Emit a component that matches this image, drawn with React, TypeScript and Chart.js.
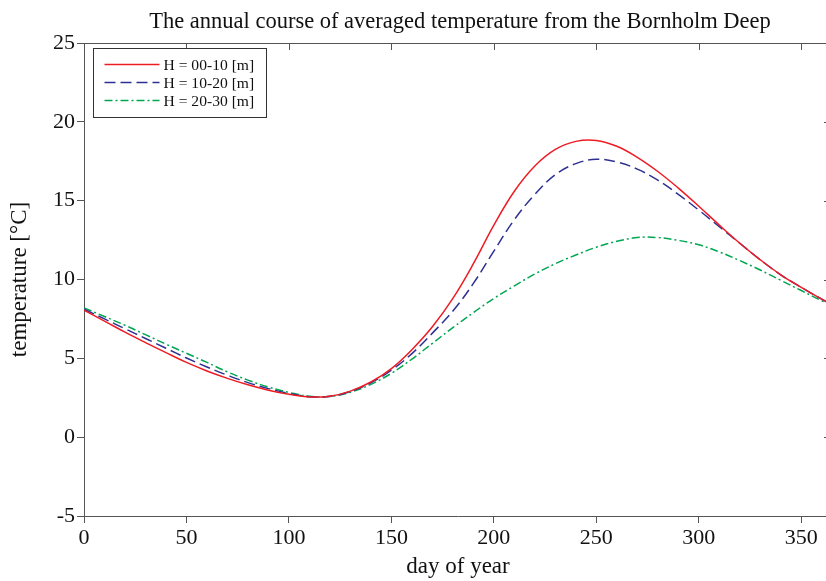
import React, { useEffect, useRef } from 'react';
import { Chart, registerables } from 'chart.js';

Chart.register(...registerables);

// ---- data ----
const DAYS = [0, 10, 20, 30, 40, 50, 60, 70, 80, 90, 100, 110, 120, 130, 140, 150, 160, 170, 180, 190, 200, 210, 220, 230, 240, 250, 260, 270, 280, 290, 300, 310, 320, 330, 340, 350, 360, 365];

const T_00_10 = [8.05, 7.36, 6.66, 6.0, 5.36, 4.74, 4.2, 3.73, 3.32, 2.98, 2.72, 2.55, 2.6, 2.92, 3.5, 4.35, 5.55, 7.0, 8.8, 11.0, 13.45, 15.6, 17.2, 18.25, 18.76, 18.82, 18.45, 17.75, 16.85, 15.8, 14.65, 13.45, 12.3, 11.25, 10.3, 9.5, 8.75, 8.4];

const T_10_20 = [8.12, 7.5, 6.88, 6.26, 5.64, 5.02, 4.45, 3.93, 3.46, 3.08, 2.77, 2.57, 2.59, 2.9, 3.45, 4.25, 5.3, 6.6, 8.0, 9.75, 11.8, 13.8, 15.4, 16.65, 17.35, 17.62, 17.45, 17.0, 16.3, 15.4, 14.4, 13.35, 12.3, 11.25, 10.3, 9.5, 8.75, 8.4];

const T_20_30 = [8.2, 7.65, 7.1, 6.5, 5.9, 5.32, 4.74, 4.14, 3.62, 3.18, 2.84, 2.6, 2.58, 2.85, 3.35, 4.05, 4.95, 5.95, 6.95, 7.9, 8.8, 9.6, 10.35, 11.0, 11.55, 12.05, 12.42, 12.66, 12.66, 12.48, 12.2, 11.75, 11.2, 10.6, 9.95, 9.3, 8.65, 8.35];

const SERIES_LABELS = ['H = 00-10 [m]', 'H = 10-20 [m]', 'H = 20-30 [m]'];
const X_TICKS = [0, 50, 100, 150, 200, 250, 300, 350];
const Y_TICKS = [-5, 0, 5, 10, 15, 20, 25];
const TITLE = 'The annual course of averaged temperature from the Bornholm Deep';
const X_LABEL = 'day of year';
const Y_LABEL = 'temperature [\u00B0C]';

// ---- styles ----
const FONT = '"Liberation Serif", "Times New Roman", serif';
const AXIS_COLOR = '#555555';
const COLORS = ['#ed1c24', '#2e3192', '#00a651'];
const DASHES: number[][] = [[], [11, 5], [8, 3, 2, 3]];

const titlePlugin = {
  id: 'matlabTitle',
  afterDraw(chart: any) {
    const { ctx, chartArea } = chart;
    ctx.save();
    ctx.font = `22.5px ${FONT}`;
    ctx.fillStyle = '#111';
    ctx.textAlign = 'center';
    ctx.textBaseline = 'alphabetic';
    ctx.fillText(TITLE, (chartArea.left + chartArea.right) / 2 + 2, 28);
    ctx.restore();
  },
};

const framePlugin = {
  id: 'matlabFrame',
  afterDraw(chart: any) {
    const { ctx, chartArea, scales } = chart;
    const { left, right, top, bottom } = chartArea;
    ctx.save();
    ctx.strokeStyle = AXIS_COLOR;
    ctx.lineWidth = 1;
    ctx.beginPath();
    ctx.moveTo(left, top + 0.5);
    ctx.lineTo(right, top + 0.5);
    ctx.moveTo(right - 0.5, top);
    ctx.lineTo(right - 0.5, bottom);
    for (const v of X_TICKS) {
      const px = Math.round(scales.x.getPixelForValue(v)) + 0.5;
      ctx.moveTo(px, top);
      ctx.lineTo(px, top + 7);
    }
    for (const v of Y_TICKS) {
      const py = Math.round(scales.y.getPixelForValue(v)) + 0.5;
      ctx.moveTo(right, py);
      ctx.lineTo(right - 8, py);
    }
    ctx.stroke();
    ctx.restore();
  },
};

const legendPlugin = {
  id: 'matlabLegend',
  afterDraw(chart: any) {
    const { ctx, chartArea } = chart;
    const bx = chartArea.left + 9.5;
    const by = chartArea.top + 5.5;
    const bw = 173;
    const bh = 69;
    ctx.save();
    ctx.fillStyle = '#ffffff';
    ctx.fillRect(bx, by, bw, bh);
    ctx.strokeStyle = '#333';
    ctx.lineWidth = 1;
    ctx.strokeRect(bx, by, bw, bh);
    ctx.font = `15.6px ${FONT}`;
    ctx.textBaseline = 'middle';
    ctx.textAlign = 'left';
    chart.data.datasets.forEach((ds: any, i: number) => {
      const yy = by + 16 + i * 18;
      ctx.strokeStyle = ds.borderColor;
      ctx.lineWidth = 1.5;
      ctx.setLineDash(ds.borderDash || []);
      ctx.beginPath();
      ctx.moveTo(bx + 11, yy);
      ctx.lineTo(bx + 66, yy);
      ctx.stroke();
      ctx.setLineDash([]);
      ctx.fillStyle = '#111';
      ctx.fillText(ds.label, bx + 70, yy + 1);
    });
    ctx.restore();
  },
};

export default function App() {
  const ref = useRef<HTMLCanvasElement | null>(null);

  useEffect(() => {
    if (!ref.current) return;
    const series = [T_00_10, T_10_20, T_20_30];
    const chart = new Chart(ref.current, {
      type: 'line',
      data: {
        datasets: series.map((vals, i) => ({
          label: SERIES_LABELS[i],
          data: DAYS.map((d, j) => ({ x: d, y: vals[j] })),
          borderColor: COLORS[i],
          borderWidth: 1.5,
          borderDash: DASHES[i],
          pointRadius: 0,
          fill: false,
          tension: 0.4,
        })),
      },
      options: {
        responsive: false,
        devicePixelRatio: 1,
        animation: false,
        layout: { padding: { top: 43, right: 10, left: 0, bottom: 0 } },
        plugins: { legend: { display: false }, tooltip: { enabled: false } },
        scales: {
          x: {
            type: 'linear',
            min: 0,
            max: 365,
            afterBuildTicks: (scale: any) => {
              scale.ticks = X_TICKS.map((v) => ({ value: v }));
            },
            afterFit: (scale: any) => {
              scale.height = 65;
            },
            grid: { drawOnChartArea: false, drawTicks: true, tickLength: 7, color: AXIS_COLOR },
            border: { display: true, color: AXIS_COLOR, width: 1 },
            ticks: { color: '#111', font: { family: FONT, size: 22 }, padding: 2, maxRotation: 0, autoSkip: false },
            title: { display: true, text: X_LABEL, color: '#111', font: { family: FONT, size: 23 }, padding: { top: 0, bottom: 0 } },
          },
          y: {
            type: 'linear',
            min: -5,
            max: 25,
            afterBuildTicks: (scale: any) => {
              scale.ticks = Y_TICKS.map((v) => ({ value: v }));
            },
            afterFit: (scale: any) => {
              scale.width = 84;
            },
            grid: { drawOnChartArea: false, drawTicks: true, tickLength: 7, color: AXIS_COLOR },
            border: { display: true, color: AXIS_COLOR, width: 1 },
            ticks: { color: '#111', font: { family: FONT, size: 22 }, padding: 2, autoSkip: false },
            title: { display: true, text: Y_LABEL, color: '#111', font: { family: FONT, size: 23 }, padding: { top: 6, bottom: 0 } },
          },
        },
      },
      plugins: [titlePlugin, framePlugin, legendPlugin],
    });
    return () => chart.destroy();
  }, []);

  return (
    <div style={{ position: 'fixed', left: 0, top: 0, width: 826, height: 581, overflow: 'hidden', background: '#fff' }}>
      <canvas ref={ref} width={842} height={581} style={{ display: 'block', width: 842, height: 581 }} />
    </div>
  );
}
